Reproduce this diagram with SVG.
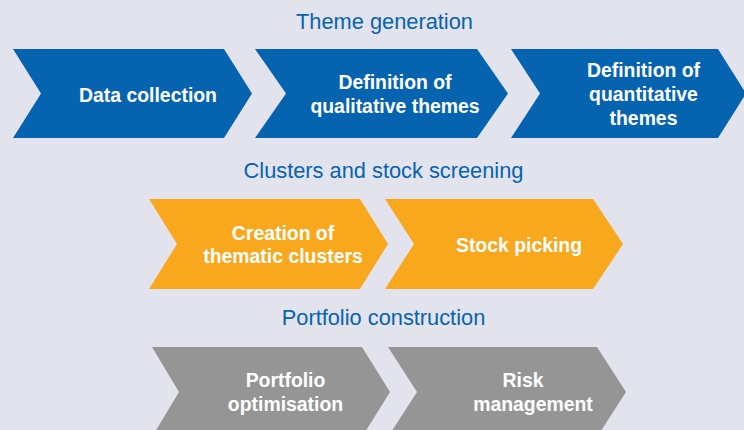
<svg xmlns="http://www.w3.org/2000/svg" width="744" height="430" viewBox="0 0 744 430">
<style>
.title{font-family:"Liberation Sans",Arial,sans-serif;font-size:21.8px;fill:#0563B0;text-anchor:middle}
.lbl{font-family:"Liberation Sans",Arial,sans-serif;font-size:19.4px;font-weight:bold;fill:#FFFFFF;text-anchor:middle}
.blue{fill:#0563B0}
.orange{fill:#F9A81E}
.gray{fill:#959595}
</style>
<rect width="744" height="430" fill="#E3E3EE"/>
<text class="title" x="384.5" y="29">Theme generation</text>
<text class="title" x="383.5" y="177.5">Clusters and stock screening</text>
<text class="title" x="383.5" y="325">Portfolio construction</text>
<g id="data-collection">
<polygon class="blue" points="13,49 224,49 252,93.5 224,138 13,138 41,93.5"/>
<text class="lbl" x="148" y="101.5">Data collection</text>
</g>
<g id="qualitative-themes">
<polygon class="blue" points="255,49 477,49 508,93.5 477,138 255,138 286,93.5"/>
<text class="lbl" x="395" y="88.5">Definition of</text>
<text class="lbl" x="395" y="112.5">qualitative themes</text>
</g>
<g id="quantitative-themes">
<polygon class="blue" points="511,49 718,49 746,93.5 718,138 511,138 540,93.5"/>
<text class="lbl" x="643.5" y="76.5">Definition of</text>
<text class="lbl" x="643.5" y="101">quantitative</text>
<text class="lbl" x="643.5" y="125">themes</text>
</g>
<g id="thematic-clusters">
<polygon class="orange" points="149,199 360,199 388,244 360,289 149,289 177,244"/>
<text class="lbl" x="283" y="240">Creation of</text>
<text class="lbl" x="283" y="263">thematic clusters</text>
</g>
<g id="stock-picking">
<polygon class="orange" points="385,199 593,199 623,244 593,289 385,289 414,244"/>
<text class="lbl" x="519" y="251.5">Stock picking</text>
</g>
<g id="portfolio-optimisation">
<polygon class="gray" points="152,347 362,347 390,392 362,437 152,437 179,392"/>
<text class="lbl" x="285.5" y="386.5">Portfolio</text>
<text class="lbl" x="285.5" y="410.5">optimisation</text>
</g>
<g id="risk-management">
<polygon class="gray" points="388,347 597,347 626,392 597,437 388,437 417,392"/>
<text class="lbl" x="523" y="386.5">Risk</text>
<text class="lbl" x="533" y="410.5">management</text>
</g>
<g id="connectors"></g>
</svg>
